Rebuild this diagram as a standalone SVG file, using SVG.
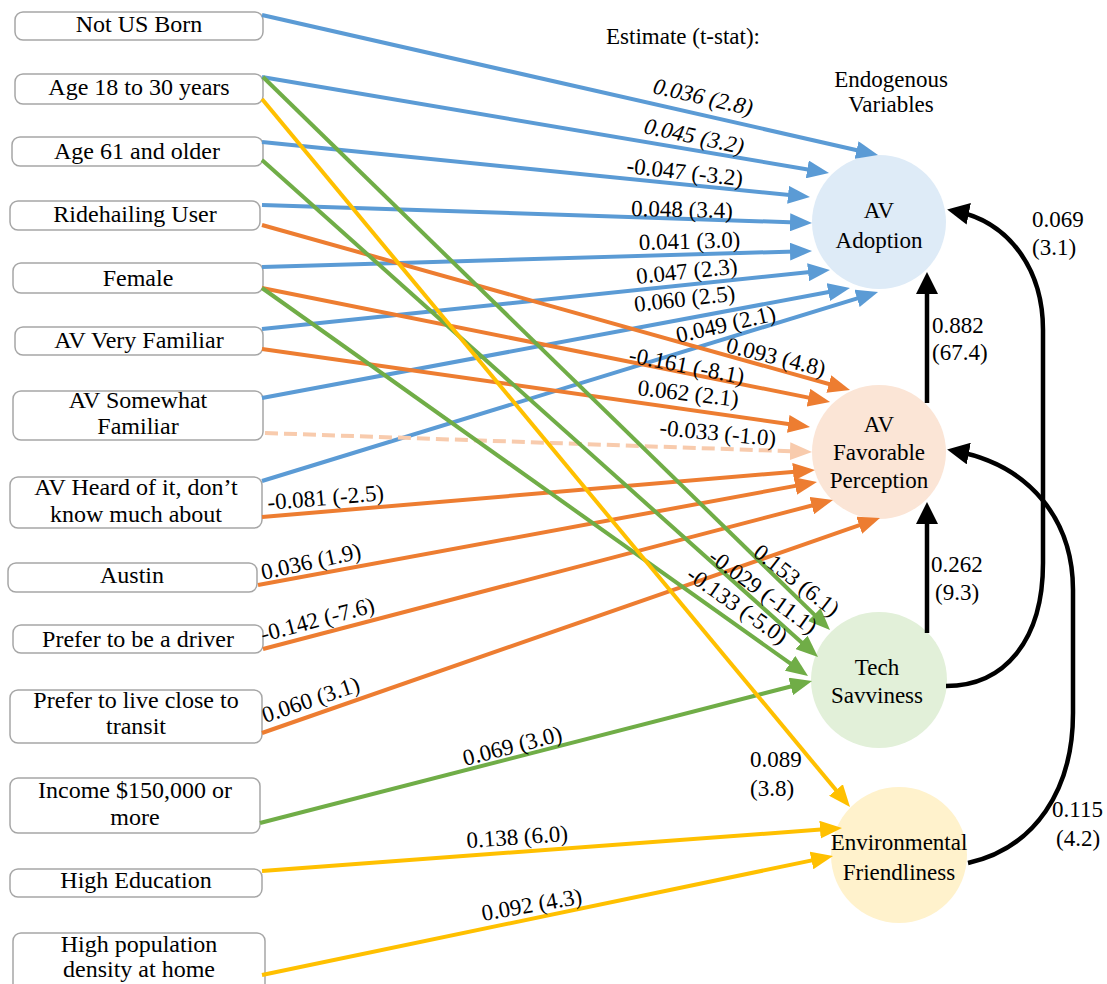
<svg xmlns="http://www.w3.org/2000/svg" width="1107" height="984" viewBox="0 0 1107 984">
<defs>
<style>
.box{fill:#fff;stroke:#a6a6a6;stroke-width:1.5}
.bt{font-family:"Liberation Serif","Times New Roman",serif;font-size:24px;fill:#000;text-anchor:middle}
.ct{font-family:"Liberation Serif","Times New Roman",serif;font-size:23px;fill:#000;text-anchor:middle}
.lb{font-family:"Liberation Serif","Times New Roman",serif;font-size:23px;fill:#000}
.it{font-style:italic}
.c{fill:none;stroke-width:4}
.blue{stroke:#5b9bd5;marker-end:url(#mb)}
.orange{stroke:#ed7d31;marker-end:url(#mo)}
.lorange{stroke:#f8cbad;stroke-dasharray:13,6;marker-end:url(#ml)}
.green{stroke:#70ad47;marker-end:url(#mg)}
.yellow{stroke:#ffc000;marker-end:url(#my)}
.black{stroke:#000;stroke-width:4.5;marker-end:url(#mk)}
</style>
<marker id="mb" markerUnits="userSpaceOnUse" markerWidth="22" markerHeight="18" viewBox="0 0 22 18" refX="14" refY="9" orient="auto"><path d="M0,0 L22,9 L0,18 z" fill="#5b9bd5"/></marker>
<marker id="mo" markerUnits="userSpaceOnUse" markerWidth="22" markerHeight="18" viewBox="0 0 22 18" refX="14" refY="9" orient="auto"><path d="M0,0 L22,9 L0,18 z" fill="#ed7d31"/></marker>
<marker id="ml" markerUnits="userSpaceOnUse" markerWidth="22" markerHeight="18" viewBox="0 0 22 18" refX="14" refY="9" orient="auto"><path d="M0,0 L22,9 L0,18 z" fill="#f8cbad"/></marker>
<marker id="mg" markerUnits="userSpaceOnUse" markerWidth="22" markerHeight="18" viewBox="0 0 22 18" refX="14" refY="9" orient="auto"><path d="M0,0 L22,9 L0,18 z" fill="#70ad47"/></marker>
<marker id="my" markerUnits="userSpaceOnUse" markerWidth="22" markerHeight="18" viewBox="0 0 22 18" refX="14" refY="9" orient="auto"><path d="M0,0 L22,9 L0,18 z" fill="#ffc000"/></marker>
<marker id="mk" markerUnits="userSpaceOnUse" markerWidth="22" markerHeight="22" viewBox="0 0 22 22" refX="14" refY="11" orient="auto"><path d="M0,0 L22,11 L0,22 z" fill="#000"/></marker>
</defs>
<rect width="1107" height="984" fill="#fff"/>

<g id="header">
<text class="lb" x="606" y="44">Estimate (t-stat):</text>
<text class="ct" x="891" y="87">Endogenous</text>
<text class="ct" x="891" y="112">Variables</text>
</g>

<g id="n-notusborn"><rect class="box" x="15" y="12" width="248" height="28" rx="8"/><text class="bt" x="139" y="32">Not US Born</text></g>
<g id="n-age1830"><rect class="box" x="15" y="74" width="248" height="30" rx="8"/><text class="bt" x="139" y="95">Age 18 to 30 years</text></g>
<g id="n-age61"><rect class="box" x="12" y="137" width="251" height="29" rx="8"/><text class="bt" x="137" y="159">Age 61 and older</text></g>
<g id="n-ride"><rect class="box" x="10" y="201" width="250" height="29" rx="8"/><text class="bt" x="135" y="222">Ridehailing User</text></g>
<g id="n-female"><rect class="box" x="13" y="263" width="250" height="30" rx="8"/><text class="bt" x="138" y="286">Female</text></g>
<g id="n-avvf"><rect class="box" x="15" y="327" width="248" height="28" rx="8"/><text class="bt" x="139" y="348">AV Very Familiar</text></g>
<g id="n-avsf"><rect class="box" x="13" y="391" width="250" height="49" rx="8"/><text class="bt" x="138" y="408">AV Somewhat</text><text class="bt" x="138" y="434">Familiar</text></g>
<g id="n-avheard"><rect class="box" x="10" y="477" width="252" height="51" rx="8"/><text class="bt" x="136" y="495">AV Heard of it, don’t</text><text class="bt" x="136" y="522">know much about</text></g>
<g id="n-austin"><rect class="box" x="8" y="563" width="249" height="29" rx="8"/><text class="bt" x="132" y="583">Austin</text></g>
<g id="n-driver"><rect class="box" x="13" y="625" width="250" height="28" rx="8"/><text class="bt" x="138" y="647">Prefer to be a driver</text></g>
<g id="n-transit"><rect class="box" x="10" y="690" width="252" height="53" rx="8"/><text class="bt" x="136" y="708">Prefer to live close to</text><text class="bt" x="136" y="734">transit</text></g>
<g id="n-income"><rect class="box" x="10" y="778" width="250" height="55" rx="8"/><text class="bt" x="135" y="798">Income $150,000 or</text><text class="bt" x="135" y="825">more</text></g>
<g id="n-highedu"><rect class="box" x="10" y="869" width="252" height="28" rx="8"/><text class="bt" x="136" y="888">High Education</text></g>
<g id="n-highpop"><rect class="box" x="13" y="933" width="252" height="60" rx="8"/><text class="bt" x="139" y="952">High population</text><text class="bt" x="139" y="977">density at home</text></g>

<g id="n-adoption"><circle cx="879" cy="222" r="67" fill="#deebf7"/><text class="ct" x="879" y="218">AV</text><text class="ct" x="879" y="248">Adoption</text></g>
<g id="n-perception"><circle cx="879" cy="452" r="67" fill="#fbe5d6"/><text class="ct" x="879" y="432">AV</text><text class="ct" x="879" y="460">Favorable</text><text class="ct" x="879" y="488">Perception</text></g>
<g id="n-tech"><circle cx="879" cy="680" r="68" fill="#e2f0d9"/><text class="ct" x="877" y="675">Tech</text><text class="ct" x="877" y="703">Savviness</text></g>
<g id="n-env"><circle cx="899" cy="855" r="68" fill="#fff2cc"/><text class="ct" x="899" y="850">Environmental</text><text class="ct" x="899" y="880">Friendliness</text></g>

<g id="connectors">
<line class="c blue" x1="262" y1="15" x2="870.2" y2="153.2"/>
<line class="c blue" x1="262" y1="77" x2="821.1" y2="171.7"/>
<line class="c blue" x1="262" y1="142" x2="802" y2="196.2"/>
<line class="c blue" x1="262" y1="205" x2="804" y2="222.7"/>
<line class="c blue" x1="262" y1="267" x2="804" y2="251.2"/>
<line class="c blue" x1="262" y1="329" x2="822" y2="270.8"/>
<line class="c blue" x1="262" y1="398" x2="842.1" y2="289.5"/>
<line class="c blue" x1="262" y1="481" x2="870.4" y2="294.3"/>

<line class="c orange" x1="262" y1="225" x2="842.3" y2="387.8"/>
<line class="c orange" x1="262" y1="288" x2="822.2" y2="400.4"/>
<line class="c orange" x1="262" y1="349" x2="802.1" y2="425.9"/>
<line class="c lorange" x1="265" y1="433" x2="804" y2="451.7"/>
<line class="c orange" x1="262" y1="517" x2="807" y2="470.7"/>
<line class="c orange" x1="258" y1="585" x2="809.1" y2="483.4"/>
<line class="c orange" x1="263" y1="649" x2="825.3" y2="502"/>
<line class="c orange" x1="262" y1="733" x2="872.4" y2="520.6"/>

<line class="c green" x1="263" y1="77" x2="824.3" y2="624.4"/>
<line class="c green" x1="262" y1="160" x2="812" y2="651.7"/>
<line class="c green" x1="262" y1="288" x2="801.5" y2="671.4"/>
<line class="c green" x1="260" y1="823" x2="804.3" y2="683"/>

<line class="c yellow" x1="262" y1="99" x2="844.9" y2="800.8"/>
<line class="c yellow" x1="262" y1="871" x2="834" y2="828.6"/>
<line class="c yellow" x1="262" y1="975" x2="825.2" y2="857.6"/>

<line class="c black" x1="927" y1="403" x2="927" y2="280"/>
<line class="c black" x1="927" y1="633" x2="927" y2="510"/>
<path class="c black" d="M946,686 C1005,686 1043,640 1043,563 L1043,330 C1043,270 1010,222 955,211"/>
<path class="c black" d="M968,863 C1035,848 1073,790 1073,713 L1073,590 C1073,520 1030,465 955,451"/>

<g id="labels">
<text class="lb it" transform="translate(652,93) rotate(12.8)">0.036 (2.8)</text>
<text class="lb it" transform="translate(643,133) rotate(12)">0.045 (3.2)</text>
<text class="lb" transform="translate(626,173) rotate(6.5)">-0.047 (-3.2)</text>
<text class="lb" transform="translate(631,216) rotate(1.2)">0.048 (3.4)</text>
<text class="lb" transform="translate(639,250) rotate(-1.6)">0.041 (3.0)</text>
<text class="lb" transform="translate(637,284) rotate(-6)">0.047 (2.3)</text>
<text class="lb" transform="translate(635,312) rotate(-6.5)">0.060 (2.5)</text>
<text class="lb" transform="translate(678,343) rotate(-13)">0.049 (2.1)</text>
<text class="lb" transform="translate(725,352) rotate(14)">0.093 (4.8)</text>
<text class="lb" transform="translate(628,362) rotate(11)">-0.161 (-8.1)</text>
<text class="lb" transform="translate(637,395) rotate(6.6)">0.062 (2.1)</text>
<text class="lb" transform="translate(659,435) rotate(5.5)">-0.033 (-1.0)</text>
<text class="lb" transform="translate(268,510) rotate(-4.8)">-0.081 (-2.5)</text>
<text class="lb" transform="translate(263,580) rotate(-12.5)">0.036 (1.9)</text>
<text class="lb" transform="translate(263,642) rotate(-15)">-0.142 (-7.6)</text>
<text class="lb" transform="translate(265,723) rotate(-18.6)">0.060 (3.1)</text>
<text class="lb" transform="translate(752,555) rotate(38)">0.153 (6.1)</text>
<text class="lb" transform="translate(707,560) rotate(36)">-0.029 (-11.1)</text>
<text class="lb" transform="translate(685,578) rotate(35)">-0.133 (-5.0)</text>
<text class="lb" transform="translate(465,766) rotate(-14.5)">0.069 (3.0)</text>
<text class="lb" transform="translate(467,848) rotate(-4)">0.138 (6.0)</text>
<text class="lb" transform="translate(483,921) rotate(-10)">0.092 (4.3)</text>
<text class="lb" x="750" y="767">0.089</text>
<text class="lb" x="750" y="796">(3.8)</text>
<text class="lb" x="932" y="333">0.882</text>
<text class="lb" x="932" y="360">(67.4)</text>
<text class="lb" x="931" y="572">0.262</text>
<text class="lb" x="935" y="600">(9.3)</text>
<text class="lb" x="1032" y="227">0.069</text>
<text class="lb" x="1032" y="255">(3.1)</text>
<text class="lb" x="1052" y="817">0.115</text>
<text class="lb" x="1056" y="846">(4.2)</text>
</g>
</g>
</svg>
